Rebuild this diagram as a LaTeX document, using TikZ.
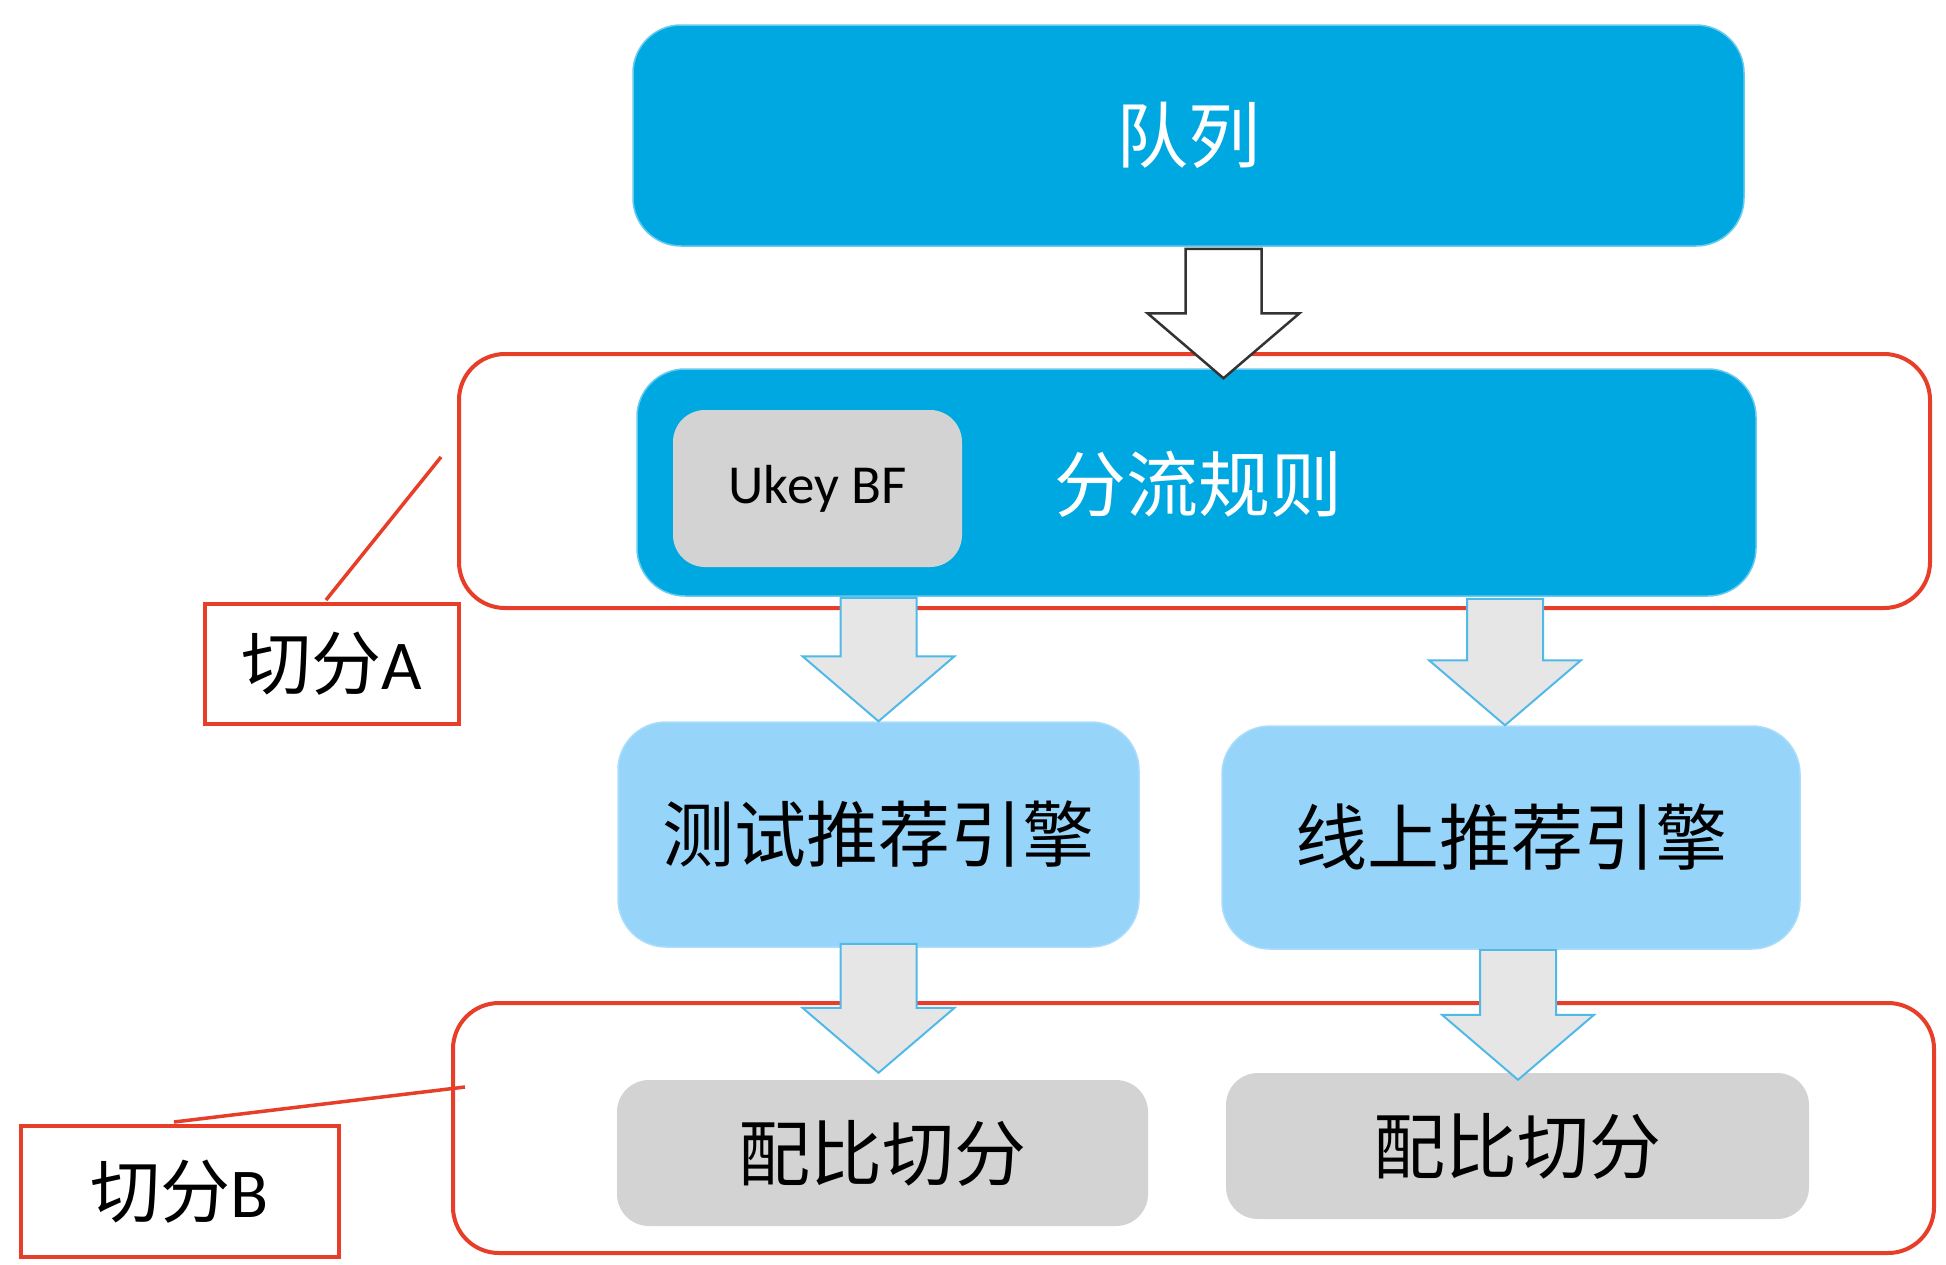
\documentclass[tikz,border=0pt]{standalone}
\usepackage{fontspec}
\setmainfont{Carlito}
\newfontfamily\zh{Noto Sans CJK SC}
\usetikzlibrary{calc}
\definecolor{dblue}{RGB}{0,168,226}
\definecolor{lblue}{RGB}{150,212,250}
\definecolor{gbox}{RGB}{211,211,211}
\definecolor{redl}{RGB}{230,62,40}
\definecolor{arrfill}{RGB}{230,230,230}
\definecolor{arredge}{RGB}{80,185,232}
\newcommand{\blockarrow}[3]{\draw[#1] let \p1=(#2), \p2=(#3) in (\x1-38pt,\y1) -- (\x1+38pt,\y1) -- (\x1+38pt,\y2+65pt) -- (\x1+76pt,\y2+65pt) -- (\x1,\y2) -- (\x1-76pt,\y2+65pt) -- (\x1-38pt,\y2+65pt) -- cycle;}
\tikzset{
  box/.style={rounded corners=48pt, inner sep=0pt, font=\fontsize{72}{80}\selectfont\zh},
  darkbox/.style={box, fill=dblue, draw=dblue!60, line width=1.5pt, text=white},
  lightbox/.style={box, fill=lblue, draw=lblue!80, line width=1.5pt, text=black},
  greybox/.style={box, fill=gbox, text=black, rounded corners=32pt},
  redframe/.style={draw=redl, line width=4pt, rounded corners=46pt},
  labelbox/.style={draw=redl, line width=4pt, fill=white, inner sep=0pt, font=\fontsize{70}{76}\selectfont},
  leader/.style={draw=redl, line width=3.5pt},
  whitearrow/.style={fill=white, draw=black!80, line width=2.5pt, line join=miter},
  bluearrow/.style={fill=arrfill, draw=arredge, line width=2pt, line join=miter}
}
\begin{document}
\begin{tikzpicture}[x=1pt,y=-1pt]
\useasboundingbox[fill=white] (0,0) rectangle (1946,1264);
% red frames
\node[redframe, minimum width=1471pt, minimum height=254pt] (frameA) at (1194.5,481) {};
\node[redframe, minimum width=1481pt, minimum height=250pt] (frameB) at (1193.5,1128) {};
% boxes
\node[darkbox, minimum width=1111pt, minimum height=221pt] (q) at (1188.5,135.5) {队列};
\node[darkbox, minimum width=1119pt, minimum height=227pt] (rule) at (1196.5,482.5) {};
\node[font=\fontsize{72}{80}\selectfont\zh, text=white] (ruletext) at (1198,484) {分流规则};
\node[greybox, minimum width=289pt, minimum height=157pt, font=\fontsize{55}{60}\selectfont] (ukey) at (817.5,488.5) {Ukey BF};
\node[lightbox, minimum width=521pt, minimum height=225pt] (test) at (878.5,834.5) {测试推荐引擎};
\node[lightbox, minimum width=578pt, minimum height=223pt] (online) at (1511,837.5) {线上推荐引擎};
\node[greybox, minimum width=531pt, minimum height=146pt] (ratio1) at (882.5,1153) {配比切分};
\node[greybox, minimum width=583pt, minimum height=146pt] (ratio2) at (1517.5,1146) {配比切分};
% labels
\node[labelbox, minimum width=254pt, minimum height=120pt] (labA) at (332,664) {{\zh 切分}A};
\node[labelbox, minimum width=318pt, minimum height=131pt] (labB) at (180,1191.5) {{\zh 切分}B};
\coordinate (leadA) at (441,457);
\coordinate (leadB) at (465,1087);
\draw[leader] ($(labA.north)+(-6,-2)$) -- (leadA);
\draw[leader] ($(labB.north)+(-6,-2)$) -- (leadB);
% arrows
\coordinate (a1s) at ($(q.south)+(35,2)$);
\coordinate (a1t) at ($(rule.north)+(29,10)$);
\blockarrow{whitearrow}{a1s}{a1t}
\blockarrow{bluearrow}{$(test.north |- rule.south)+(0,1)$}{test.north}
\blockarrow{bluearrow}{$(online.north |- rule.south)+(-6,2)$}{online.north}
\blockarrow{bluearrow}{$(test.south)+(0,-4)$}{$(ratio1.north)+(0,-7)$}
\blockarrow{bluearrow}{$(online.south)+(7,0)$}{$(ratio2.north)+(0,7)$}
\end{tikzpicture}
\end{document}
